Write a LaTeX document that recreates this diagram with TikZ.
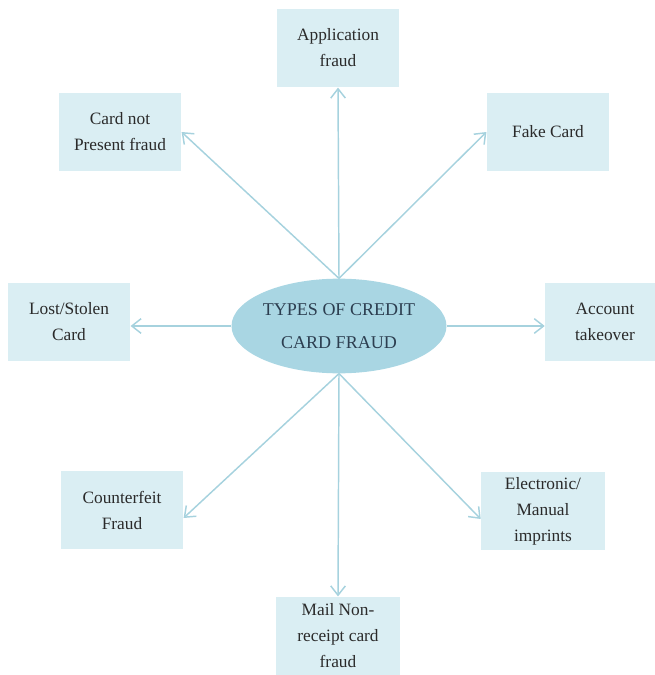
\documentclass[tikz,border=0pt]{standalone}
\usepackage{fontspec}
\setmainfont{Liberation Serif}
\usetikzlibrary{arrows.meta,shapes.geometric}
\definecolor{boxfill}{HTML}{DAEEF3}
\definecolor{ellfill}{HTML}{A9D6E3}
\definecolor{arrowc}{HTML}{A6D2DE}
\definecolor{txt}{HTML}{2A2A2A}
\definecolor{etxt}{HTML}{2C3E50}
\begin{document}
\begin{tikzpicture}[x=0.75pt,y=-0.75pt,
  typebox/.style={rectangle,fill=boxfill,draw=none,minimum width=92pt,minimum height=59pt,
    align=center,text=txt,font=\fontsize{13}{19.5}\selectfont,inner sep=2pt},
  hub/.style={ellipse,fill=ellfill,draw=none,minimum width=153pt,minimum height=71pt,
    align=center,text=etxt,font=\fontsize{13.5}{25}\selectfont,inner sep=0pt},
  link/.style={draw=arrowc,line width=1.1pt,-{Straight Barb[length=7pt,width=11pt,line width=1.1pt]}}]
\useasboundingbox (0,0) rectangle (655,675);
\node[hub] (c) at (339,326) {TYPES OF CREDIT\\CARD FRAUD};
\node[typebox] (app) at (338,48) {Application\\fraud};
\node[typebox] (cnp) at (120,132) {Card not\\Present fraud};
\node[typebox] (fake) at (548,132) {Fake Card};
\node[typebox] (lost) at (69,322) {Lost/Stolen\\Card};
\node[typebox,minimum width=90pt] (acct) at (605,322) {Account\\takeover};
\node[typebox] (cf) at (122,510) {Counterfeit\\Fraud};
\node[typebox,minimum width=93pt] (el) at (543,511) {Electronic/\\Manual\\imprints};
\node[typebox,minimum width=93pt] (mail) at (338,636) {Mail Non-\\receipt card\\fraud};
\draw[link] (c.north) -- (app.south);
\draw[link] (c.north) -- (cnp.east);
\draw[link] (c.north) -- (fake.west);
\draw[link] (c.west) -- (lost.east |- c.west);
\draw[link] (c.east) -- (acct.west |- c.east);
\draw[link] (c.south) -- ([yshift=-6pt]cf.east);
\draw[link] (c.south) -- ([yshift=-6pt]el.west);
\draw[link] (c.south) -- (mail.north);
\end{tikzpicture}
\end{document}
